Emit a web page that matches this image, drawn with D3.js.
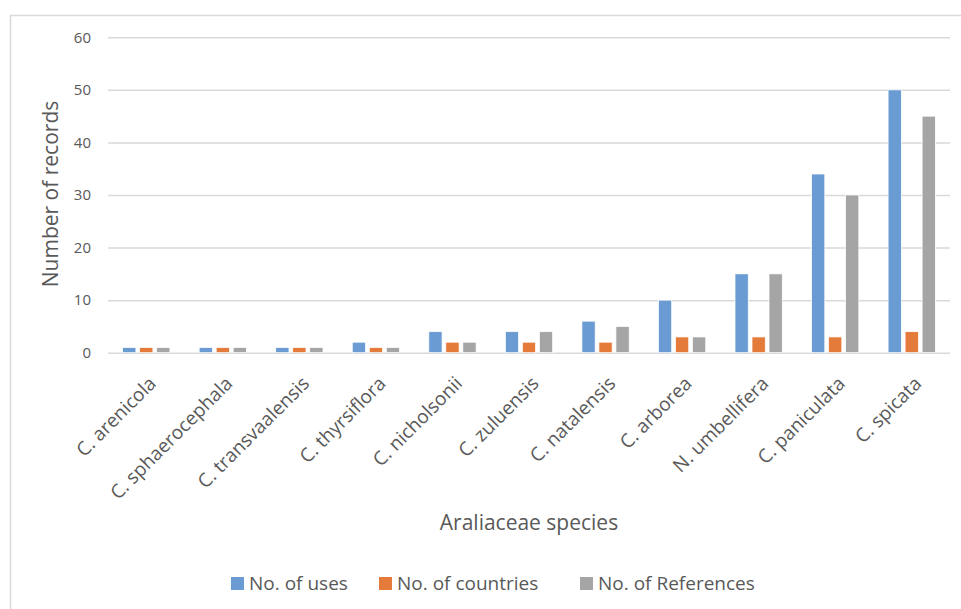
<!DOCTYPE html>
<html>
<head>
<meta charset="utf-8">
<script src="https://cdn.jsdelivr.net/npm/d3@7"></script>
<style>
  body { margin: 0; background: #fff; }
  text { font-family: "Open Sans", sans-serif; fill: #595959; }
</style>
</head>
<body>
<script>
// data
const species = ["C. arenicola", "C. sphaerocephala", "C. transvaalensis", "C. thyrsiflora",
                 "C. nicholsonii", "C. zuluensis", "C. natalensis", "C. arborea",
                 "N. umbellifera", "C. paniculata", "C. spicata"];
const uses       = [1, 1, 1, 2, 4, 4, 6, 10, 15, 34, 50];
const countries  = [1, 1, 1, 1, 2, 2, 2, 3, 3, 3, 4];
const references = [1, 1, 1, 1, 2, 4, 5, 3, 15, 30, 45];
const seriesNames = ["No. of uses", "No. of countries", "No. of References"];
const colors = ["#6a9bd3", "#e57b3a", "#a5a5a5"];
const yTicks = [0, 10, 20, 30, 40, 50, 60];

const width = 961, height = 609;
const plotLeft = 108, plotRight = 950, plotTop = 37.3, plotBottom = 352.7;

const svg = d3.select("body").append("svg")
    .attr("width", width)
    .attr("height", height);

// chart frame
svg.append("path")
    .attr("d", "M10.5," + height + "V15.5H" + width)
    .attr("fill", "none")
    .attr("stroke", "#d9d9d9")
    .attr("stroke-width", 1.5);

const xScale = d3.scaleBand()
    .domain(species)
    .range([plotLeft, plotRight]);

const xSub = d3.scaleBand()
    .domain(seriesNames)
    .range([0, xScale.bandwidth()])
    .paddingInner(0.22)
    .paddingOuter(0.86);

const yScale = d3.scaleLinear()
    .domain([0, 60])
    .range([plotBottom, plotTop]);

// gridlines
const leftAxis = d3.axisLeft(yScale)
    .tickValues(yTicks)
    .tickSize(-(plotRight - plotLeft))
    .tickPadding(17);
const gy = svg.append("g")
    .attr("transform", "translate(" + plotLeft + ",0)")
    .call(leftAxis);
gy.select(".domain").remove();
gy.selectAll("line").attr("stroke", "#d9d9d9").attr("stroke-width", 1.5);
gy.selectAll("text").style("font-size", "15px").attr("fill", "#595959");

// bars
const table = species.map((s, i) => ({
    name: s,
    values: [uses[i], countries[i], references[i]]
}));

const groups = svg.selectAll(".grp")
    .data(table)
    .enter()
    .append("g")
    .attr("transform", d => "translate(" + xScale(d.name) + ",0)");

groups.selectAll("rect")
    .data(d => d.values.map((v, j) => ({ key: seriesNames[j], v: v, j: j })))
    .enter()
    .append("rect")
    .attr("x", d => xSub(d.key))
    .attr("y", d => yScale(d.v))
    .attr("width", xSub.bandwidth())
    .attr("height", d => plotBottom - yScale(d.v))
    .attr("fill", d => colors[d.j])
    .attr("stroke", "#fff")
    .attr("stroke-width", 0.75);

// category labels
const bottomAxis = d3.axisBottom(xScale).tickSize(0).tickPadding(0);
const gx = svg.append("g")
    .attr("transform", "translate(0," + plotBottom + ")")
    .call(bottomAxis);
gx.select(".domain").remove();
gx.selectAll("text")
    .style("font-size", "19px")
    .attr("fill", "#595959")
    .attr("text-anchor", "end")
    .attr("dy", null)
    .attr("y", 0)
    .attr("transform", "translate(11,32) rotate(-45)");

// axis titles
svg.append("text")
    .attr("transform", "translate(58,194) rotate(-90)")
    .attr("text-anchor", "middle")
    .style("font-size", "21px")
    .text("Number of records");

svg.append("text")
    .attr("x", 529)
    .attr("y", 530)
    .attr("text-anchor", "middle")
    .style("font-size", "21px")
    .text("Araliaceae species");

// legend
const legendX = [231, 379, 580];
const legend = svg.selectAll(".leg")
    .data(seriesNames)
    .enter()
    .append("g")
    .attr("transform", (d, i) => "translate(" + legendX[i] + ",577)");
legend.append("rect")
    .attr("width", 13)
    .attr("height", 13)
    .attr("fill", (d, i) => colors[i]);
legend.append("text")
    .attr("x", 18)
    .attr("y", 13)
    .style("font-size", "19px")
    .text(d => d);
</script>
</body>
</html>
